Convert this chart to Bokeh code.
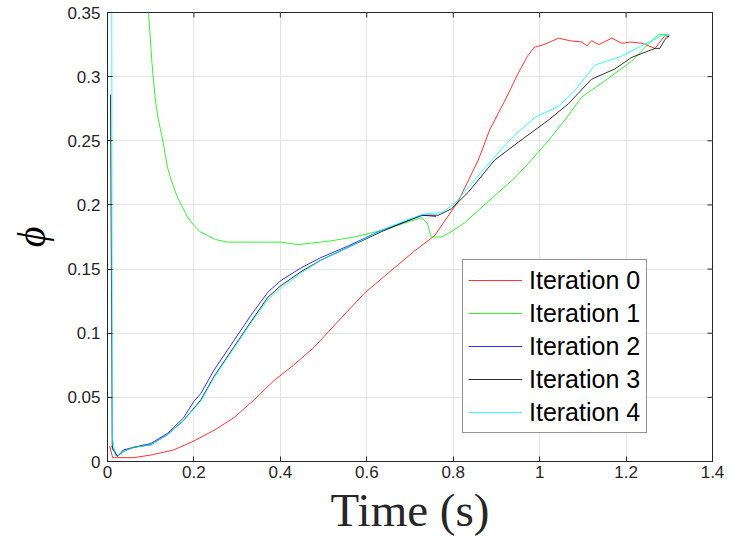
import math
from bokeh.plotting import figure
from bokeh.models import (FixedTicker, CustomJSTickFormatter, Legend, LegendItem, Range1d)
from bokeh.embed import file_html
from bokeh.resources import INLINE

# ---- data ----
t0 = [0.005, 0.012, 0.06, 0.1, 0.153, 0.2, 0.25, 0.292, 0.339, 0.385, 0.43, 0.478,
      0.53, 0.594, 0.65, 0.71, 0.757, 0.812, 0.858, 0.885, 0.919, 0.951, 0.972, 0.988,
      1.01, 1.044, 1.07, 1.097, 1.11, 1.12, 1.137, 1.167, 1.19, 1.21, 1.237, 1.267,
      1.29, 1.3]
y0 = [0.012, 0.003, 0.003, 0.005, 0.009, 0.016, 0.025, 0.034, 0.048, 0.063, 0.075, 0.089,
      0.108, 0.131, 0.147, 0.164, 0.176, 0.203, 0.235, 0.259, 0.281, 0.303, 0.316, 0.323,
      0.325, 0.33, 0.328, 0.327, 0.324, 0.328, 0.325, 0.33, 0.326, 0.327, 0.326, 0.322,
      0.332, 0.331]

t1 = [0.085, 0.095, 0.103, 0.111, 0.118, 0.128, 0.139, 0.146, 0.153, 0.163, 0.174, 0.186,
      0.2, 0.215, 0.232, 0.25, 0.278, 0.332, 0.371, 0.401, 0.441, 0.517, 0.571, 0.633,
      0.68, 0.726, 0.74, 0.749, 0.773, 0.8, 0.826, 0.882, 0.942, 0.981, 1.02, 1.06,
      1.097, 1.16, 1.213, 1.253, 1.276, 1.29, 1.3]
y1 = [0.40, 0.35, 0.31, 0.281, 0.266, 0.25, 0.229, 0.221, 0.214, 0.205, 0.198, 0.19,
      0.184, 0.179, 0.176, 0.173, 0.171, 0.171, 0.171, 0.171, 0.169, 0.172, 0.175, 0.18,
      0.185, 0.19, 0.186, 0.175, 0.175, 0.18, 0.186, 0.203, 0.221, 0.235, 0.25, 0.267,
      0.284, 0.299, 0.312, 0.326, 0.333, 0.333, 0.332]

t2 = [0.01, 0.023, 0.037, 0.06, 0.1, 0.139, 0.176, 0.2, 0.216, 0.246, 0.292, 0.332,
      0.371, 0.401, 0.448, 0.494, 0.557, 0.633, 0.69, 0.73, 0.76]
y2 = [0.012, 0.004, 0.009, 0.011, 0.014, 0.022, 0.034, 0.047, 0.053, 0.071, 0.094, 0.114,
      0.132, 0.141, 0.151, 0.159, 0.168, 0.18, 0.187, 0.192, 0.191]

t3 = [0.007, 0.011, 0.023, 0.037, 0.06, 0.1, 0.139, 0.176, 0.216, 0.246, 0.292, 0.332,
      0.371, 0.401, 0.448, 0.494, 0.557, 0.633, 0.69, 0.726, 0.766, 0.796, 0.835, 0.896,
      0.963, 1.02, 1.067, 1.12, 1.174, 1.213, 1.267, 1.278, 1.29, 1.3]
y3 = [0.286, 0.01, 0.004, 0.008, 0.011, 0.013, 0.021, 0.032, 0.048, 0.066, 0.089, 0.109,
      0.128, 0.137, 0.148, 0.157, 0.167, 0.179, 0.187, 0.192, 0.192, 0.197, 0.21, 0.235,
      0.252, 0.266, 0.279, 0.298, 0.306, 0.315, 0.322, 0.322, 0.329, 0.332]

t4 = [0.009, 0.011, 0.017, 0.023, 0.037, 0.06, 0.1, 0.139, 0.176, 0.216, 0.246, 0.292,
      0.332, 0.371, 0.401, 0.448, 0.494, 0.557, 0.633, 0.69, 0.733, 0.773, 0.803, 0.889,
      0.935, 0.988, 1.044, 1.081, 1.128, 1.19, 1.253, 1.283, 1.3]
y4 = [0.6, 0.02, 0.005, 0.004, 0.008, 0.011, 0.013, 0.021, 0.032, 0.047, 0.065, 0.088,
      0.108, 0.126, 0.135, 0.147, 0.157, 0.167, 0.18, 0.188, 0.193, 0.194, 0.201, 0.235,
      0.252, 0.268, 0.277, 0.289, 0.309, 0.316, 0.327, 0.332, 0.333]

labels = ["Iteration 0", "Iteration 1", "Iteration 2", "Iteration 3", "Iteration 4"]
colors = ["#ff0000", "#00ee00", "#0000ff", "#000000", "#00ffff"]
x_ticks = [0, 0.2, 0.4, 0.6, 0.8, 1.0, 1.2, 1.4]
y_ticks = [0, 0.05, 0.1, 0.15, 0.2, 0.25, 0.3, 0.35]
x_min, x_max = 0, 1.4
y_min, y_max = 0, 0.35

p = figure(width=725, height=540, x_range=Range1d(x_min, x_max), y_range=Range1d(y_min, y_max),
           output_backend="svg", toolbar_location=None,
           min_border_left=107, min_border_right=13, min_border_top=12, min_border_bottom=79)

series = [(t0, y0), (t1, y1), (t2, y2), (t3, y3), (t4, y4)]
renderers = []
for (tx, ty), c in zip(series, colors):
    r = p.line(tx, ty, line_color=c, line_width=1, line_alpha=0.8)
    renderers.append(r)

fmt = CustomJSTickFormatter(code="return Number(tick.toFixed(2)).toString();")
tick_color = "#262626"

for ax, ticks in ((p.xaxis[0], x_ticks), (p.yaxis[0], y_ticks)):
    ax.ticker = FixedTicker(ticks=ticks)
    ax.formatter = fmt
    ax.major_tick_in = 5
    ax.major_tick_out = 0
    ax.minor_tick_line_color = None
    ax.axis_line_color = tick_color
    ax.major_tick_line_color = tick_color
    ax.major_label_text_font = "Liberation Sans"
    ax.major_label_text_font_size = "17px"
    ax.major_label_text_color = tick_color

p.xaxis[0].major_label_standoff = 4
p.yaxis[0].major_label_standoff = 7

p.xaxis[0].axis_label = "Time (s)"
p.xaxis[0].axis_label_text_font = "Liberation Serif"
p.xaxis[0].axis_label_text_font_style = "normal"
p.xaxis[0].axis_label_text_font_size = "47px"
p.xaxis[0].axis_label_text_color = tick_color
p.xaxis[0].axis_label_standoff = 3

p.yaxis[0].axis_label = "ϕ"
p.yaxis[0].axis_label_text_font = "Liberation Serif"
p.yaxis[0].axis_label_text_font_style = "italic"
p.yaxis[0].axis_label_text_font_size = "40px"
p.yaxis[0].axis_label_text_color = "#000000"
p.yaxis[0].axis_label_standoff = 10

# mirrored inward ticks on the top and right edges (box on)
p.scatter(x_ticks, [y_max] * len(x_ticks), marker="dash", size=10, angle=math.pi / 2,
          line_color=tick_color, line_width=1)
p.scatter([x_max] * len(y_ticks), y_ticks, marker="dash", size=10,
          line_color=tick_color, line_width=1)

p.xgrid.ticker = FixedTicker(ticks=x_ticks)
p.ygrid.ticker = FixedTicker(ticks=y_ticks)
p.grid.grid_line_color = "#e3e3e3"
p.grid.grid_line_width = 1
p.outline_line_color = tick_color
p.outline_line_width = 1
p.background_fill_color = "white"
p.border_fill_color = "white"

legend = Legend(items=[LegendItem(label=l, renderers=[r]) for l, r in zip(labels, renderers)],
                location=(355, 28))
legend.label_text_font = "Liberation Sans"
legend.label_text_font_size = "25px"
legend.label_text_color = "#000000"
legend.glyph_width = 54
legend.glyph_height = 30
legend.label_height = 30
legend.label_width = 112
legend.label_standoff = 7
legend.padding = 5
legend.spacing = 3
legend.margin = 0
legend.border_line_color = tick_color
legend.border_line_width = 1
legend.background_fill_alpha = 1
p.add_layout(legend)

open("out.html", "w").write(file_html(p, INLINE))
